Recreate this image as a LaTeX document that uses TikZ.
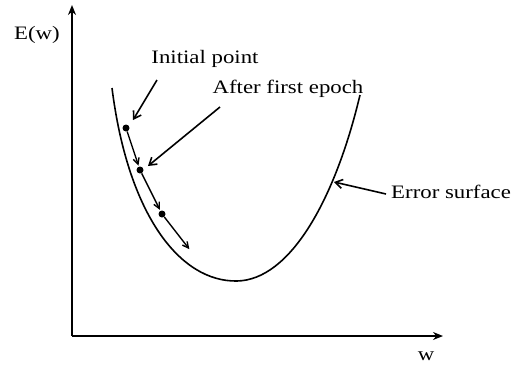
\documentclass[tikz,border=0pt]{standalone}
\usepackage{fontspec}
\setmainfont{Liberation Serif}
\usetikzlibrary{arrows.meta}
\begin{document}
\begin{tikzpicture}[x=1pt,y=-1pt,
  lbl/.style={font=\fontsize{19}{22}\selectfont, inner sep=0pt, xscale=1.2, transform shape},
  axis/.style={line width=2pt, -{Stealth[length=10pt,width=8pt]}},
  pointer/.style={line width=1.6pt, -{Straight Barb[length=7pt,width=9pt]}},
  step/.style={},
  steparrow/.style={line width=1.4pt, -{Straight Barb[length=6pt,width=6pt]}, shorten >=1pt},
  dot/.style={circle, fill=black, inner sep=0pt, minimum size=7pt}]
\useasboundingbox (0,0) rectangle (525,370);
% axes
\coordinate (O) at (72,336);
\coordinate (Ytop) at (72,5);
\coordinate (Xend) at (443,336);
\draw[axis] (O) -- (Ytop);
\draw[axis] (O) -- (Xend);
% labels
\node[lbl] (Ew) at (37,35) {E(w)};
\node[lbl] (w) at (426,356) {w};
\node[lbl] (init) at (205,59) {Initial point};
\node[lbl] (after) at (288,89) {After first epoch};
\node[lbl, anchor=west] (err) at (391,192) {Error surface};
% error surface
\coordinate (c0) at (112,88);
\coordinate (cmin) at (237,281);
\coordinate (c1) at (360,95);
\draw[line width=1.6pt] (c0) .. controls (128,215) and (180,282) .. (cmin)
   .. controls (290,280) and (335,200) .. (c1);
% points
\node[dot] (p1) at (126,128) {};
\node[dot] (p2) at (140,170) {};
\node[dot] (p3) at (162,214) {};
\coordinate (pend) at (190,250);
\draw[steparrow] (p1) -- (p2);
\draw[steparrow] (p2) -- (p3);
\draw[steparrow] (p3) -- (pend);
% pointers
\coordinate (a1s) at (157,80);
\coordinate (a1e) at (133,120);
\draw[pointer] (a1s) -- (a1e);
\coordinate (a2s) at (220,107);
\coordinate (a2e) at (148,166);
\draw[pointer] (a2s) -- (a2e);
\coordinate (a3s) at (386,194);
\coordinate (a3e) at (334,182);
\draw[pointer] (a3s) -- (a3e);
\end{tikzpicture}
\end{document}
